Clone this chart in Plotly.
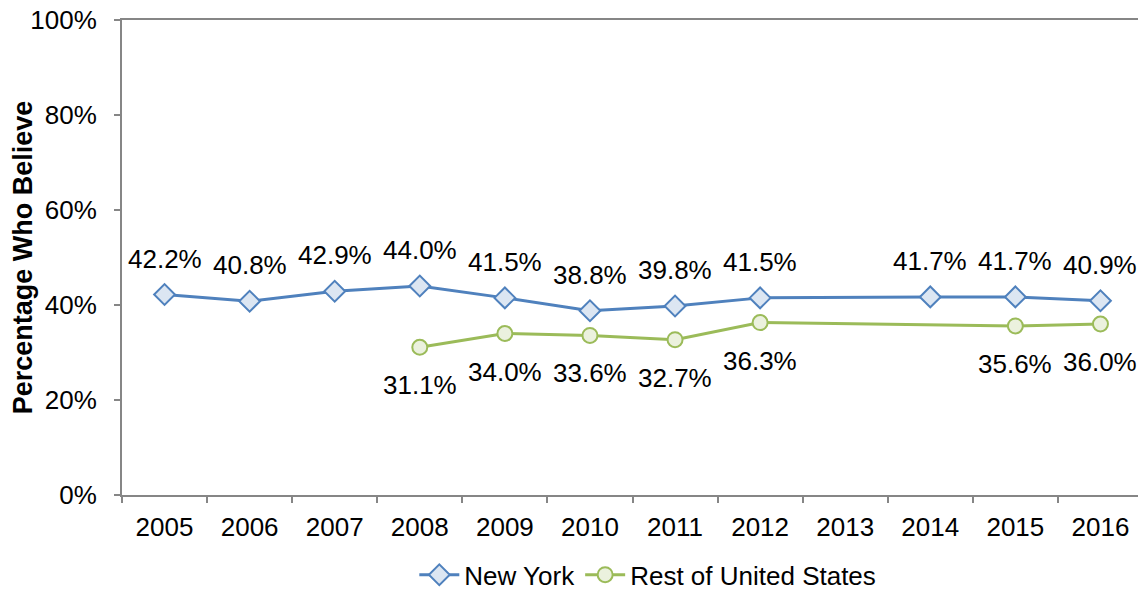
import plotly.graph_objects as go

years = ["2005", "2006", "2007", "2008", "2009", "2010", "2011", "2012", "2013", "2014", "2015", "2016"]
new_york = [42.2, 40.8, 42.9, 44.0, 41.5, 38.8, 39.8, 41.5, None, 41.7, 41.7, 40.9]
rest_us = [None, None, None, 31.1, 34.0, 33.6, 32.7, 36.3, None, None, 35.6, 36.0]
y_ticks = [0, 20, 40, 60, 80, 100]
y_tick_labels = ["0%", "20%", "40%", "60%", "80%", "100%"]

BLUE = "#4F81BD"
BLUE_FILL = "#DCE6F2"
GREEN = "#9BBB59"
GREEN_FILL = "#EBF1DE"
AXIS = "#868686"
FONT = "Liberation Sans, Arial, sans-serif"

# the page body has an 8px margin; plot margins compensate for it
fig = go.Figure()
fig.add_trace(go.Scatter(
    x=years, y=new_york, name="New York", mode="lines+markers", connectgaps=True,
    line=dict(color=BLUE, width=3),
    marker=dict(symbol="diamond", size=16, color=BLUE_FILL, line=dict(color=BLUE, width=2)),
))
fig.add_trace(go.Scatter(
    x=years, y=rest_us, name="Rest of United States", mode="lines+markers", connectgaps=True,
    line=dict(color=GREEN, width=3),
    marker=dict(symbol="circle", size=15, color=GREEN_FILL, line=dict(color=GREEN, width=2)),
))

for i, v in enumerate(new_york):
    if v is not None:
        fig.add_annotation(x=i, y=v, text=f"{v:.1f}%", showarrow=False, yshift=36,
                           font=dict(size=26, color="#000000", family=FONT))
for i, v in enumerate(rest_us):
    if v is not None:
        fig.add_annotation(x=i, y=v, text=f"{v:.1f}%", showarrow=False, yshift=-38,
                           font=dict(size=26, color="#000000", family=FONT))

fig.update_layout(
    width=1146, height=589,
    margin=dict(l=114, r=11, t=12, b=102, autoexpand=False),
    paper_bgcolor="white", plot_bgcolor="white",
    font=dict(family=FONT, size=26, color="#000000"),
    showlegend=True,
    legend=dict(orientation="h", x=0.515, xanchor="center", y=-0.168, yanchor="middle",
                font=dict(size=26, family=FONT), itemwidth=40, tracegroupgap=0),
    xaxis=dict(
        type="category", categoryorder="array", categoryarray=years,
        range=[-0.5, len(years) - 0.5], automargin=False,
        showgrid=False, zeroline=False,
        showline=True, linecolor=AXIS, linewidth=2, mirror=True,
        ticks="outside", tickson="boundaries", ticklen=6, tickcolor=AXIS, tickwidth=2,
        tickangle=0, ticklabeloverflow="allow",
        tickfont=dict(size=26, family=FONT), ticklabelstandoff=8,
    ),
    yaxis=dict(
        range=[0, 100], tickvals=y_ticks, ticktext=y_tick_labels, automargin=False,
        showgrid=False, zeroline=False,
        showline=True, linecolor=AXIS, linewidth=2, mirror=True,
        ticks="outside", ticklen=6, tickcolor=AXIS, tickwidth=2,
        ticklabeloverflow="allow",
        tickfont=dict(size=26, family=FONT), ticklabelstandoff=12,
        title=dict(text="<b>Percentage Who Believe</b>", font=dict(size=27, family=FONT), standoff=10),
    ),
)

fig.write_html("out.html")
